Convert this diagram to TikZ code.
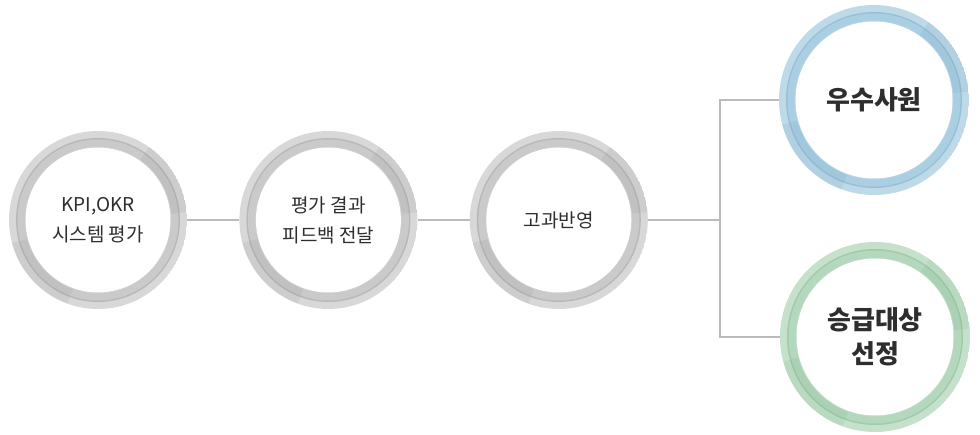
\documentclass[tikz,border=0pt]{standalone}
\usepackage{fontspec}
\setmainfont{Noto Sans CJK KR}
\usetikzlibrary{positioning}

\definecolor{greyouter}{HTML}{D8D8D8}
\definecolor{greysep}{HTML}{B8B8B8}
\definecolor{greyinner}{HTML}{CACACA}
\definecolor{greydark}{HTML}{8C8C8C}
\definecolor{blueouter}{HTML}{BEDAE9}
\definecolor{bluesep}{HTML}{98C0D6}
\definecolor{blueinner}{HTML}{ABCFE2}
\definecolor{bluedark}{HTML}{6399B9}
\definecolor{greenouter}{HTML}{C5E1CC}
\definecolor{greensep}{HTML}{A0CAAA}
\definecolor{greeninner}{HTML}{B4D8BD}
\definecolor{greendark}{HTML}{73AA80}
\definecolor{textdark}{HTML}{2E2E2E}
\definecolor{linegrey}{HTML}{BBBBBB}

\begin{document}
\begin{tikzpicture}[
        x=1pt, y=-1pt,
        ring/.style 2 args={
            circle,
            minimum size=2*#1,
            inner sep=0pt,
            align=center,
            text=textdark,
            path picture={
                \coordinate (c) at (path picture bounding box.center);
                \fill[#2outer] (c) circle[radius=#1];
                \fill[#2sep] (c) circle[radius=#1-7pt];
                \fill[#2inner] (c) circle[radius=#1-8.5pt];
                \fill[#2dark, opacity=.14]
                    (c) -- ++(5:#1) arc[start angle=5, end angle=55, radius=#1] -- cycle;
                \fill[#2dark, opacity=.14]
                    (c) -- ++(195:#1) arc[start angle=195, end angle=250, radius=#1] -- cycle;
                \fill[#2sep!70] (c) circle[radius=#1-15.5pt];
                \fill[white] (c) circle[radius=#1-16.5pt];
            }
        },
        stage/.style={
            ring={89pt}{grey},
            font=\fontsize{19}{30}\selectfont
        },
        outcome/.style={
            ring={95pt}{#1},
            font=\fontsize{26}{34}\selectfont\bfseries
        },
        link/.style={
            draw=linegrey,
            line width=1.2pt
        },
        node distance=52pt
    ]

        \useasboundingbox (0,0) rectangle (980,435);

        \node[stage] (kpi) at (98,220)
            {KPI,OKR\\시스템 평가};

        \node[stage, right=of kpi] (feedback)
            {평가 결과\\피드백 전달};

        \node[stage, right=of feedback] (reflect)
            {고과반영};

        \node[outcome=blue] (best) at (874,100)
            {우수사원};

        \node[outcome=green] (promo) at (875,337)
            {승급대상\\선정};

        \coordinate (split) at (720,220);

        \draw[link] (kpi) -- (feedback);
        \draw[link] (feedback) -- (reflect);
        \draw[link] (reflect) -- (split);
        \draw[link] (split) |- (best);
        \draw[link] (split) |- (promo);

    \end{tikzpicture}
\end{document}
